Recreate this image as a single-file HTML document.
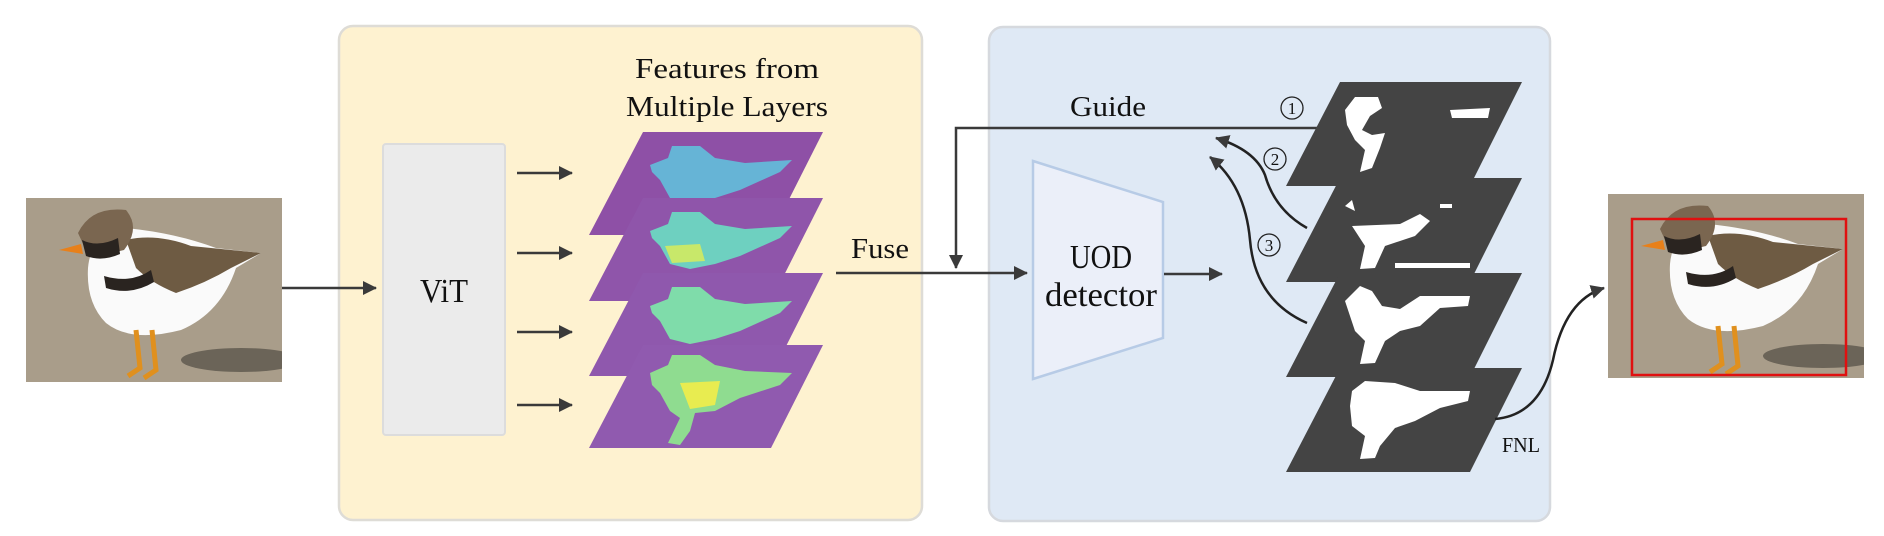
<!DOCTYPE html>
<html><head><meta charset="utf-8"><style>
html,body{margin:0;padding:0;background:#fff;}
svg{display:block;}
text{font-family:"Liberation Serif",serif;fill:#111;}
</style></head><body>
<svg width="1884" height="536" viewBox="0 0 1884 536" xmlns="http://www.w3.org/2000/svg">
<defs>
<marker id="ah" markerWidth="10" markerHeight="10" refX="9" refY="5" orient="auto" markerUnits="userSpaceOnUse">
<path d="M0,0 L10,5 L0,10 z" fill="#3a3a3a"/></marker>
<marker id="ah2" markerWidth="14" markerHeight="14" refX="13" refY="7" orient="auto" markerUnits="userSpaceOnUse">
<path d="M0,0 L14,7 L0,14 z" fill="#3a3a3a"/></marker>
<clipPath id="bc"><rect x="0" y="0" width="256" height="184"/></clipPath>
<g id="bird" clip-path="url(#bc)">
<rect x="0" y="0" width="256" height="184" fill="#a99d8a"/>
<ellipse cx="215" cy="162" rx="60" ry="12" fill="#6b6458"/>
<path d="M62,70 Q65,35 100,30 Q150,35 190,50 L235,55 L210,70 Q195,115 155,132 Q105,145 80,125 Q60,105 62,70z" fill="#fafafa"/>
<path d="M100,42 Q130,35 165,48 L235,55 L205,70 Q180,85 150,95 Q125,85 110,70z" fill="#6e5b43"/>
<path d="M52,35 Q65,8 100,12 Q115,30 98,52 Q75,58 58,48z" fill="#7a6650"/>
<path d="M56,42 Q72,50 92,40 L94,56 Q76,64 60,58z" fill="#2a2420"/>
<path d="M78,78 Q105,86 125,72 L128,84 Q105,98 80,90z" fill="#2a2420"/>
<path d="M33,52 L55,46 L57,56z" fill="#e8801a"/>
<path d="M110,132 L114,170 L102,178 M126,132 L130,172 L118,180" stroke="#e0901e" stroke-width="5" fill="none"/>
</g>
<polygon id="fp" points="643,132 823,132 771,235 589,235"/>
<polygon id="mp" points="1340,82 1522,82 1470,186 1286,186"/>
</defs>

<use href="#bird" transform="translate(26,198)"/>

<!-- yellow panel -->
<rect x="339" y="26" width="583" height="494" rx="14" fill="#fef2d0" stroke="#dedcd6" stroke-width="2.5"/>
<line x1="282" y1="288" x2="376" y2="288" stroke="#3a3a3a" stroke-width="2.5" marker-end="url(#ah2)"/>
<rect x="383" y="144" width="122" height="291" rx="3" fill="#ebebeb" stroke="#dcdcdc" stroke-width="2"/>
<text x="444" y="302" font-size="34" text-anchor="middle" textLength="48" lengthAdjust="spacingAndGlyphs">ViT</text>
<g stroke="#3a3a3a" stroke-width="2.5">
<line x1="517" y1="173" x2="572" y2="173" marker-end="url(#ah2)"/>
<line x1="517" y1="253" x2="572" y2="253" marker-end="url(#ah2)"/>
<line x1="517" y1="332" x2="572" y2="332" marker-end="url(#ah2)"/>
<line x1="517" y1="405" x2="572" y2="405" marker-end="url(#ah2)"/>
</g>
<text x="727" y="78" font-size="29" text-anchor="middle" textLength="184" lengthAdjust="spacingAndGlyphs">Features from</text>
<text x="727" y="116" font-size="29" text-anchor="middle" textLength="202" lengthAdjust="spacingAndGlyphs">Multiple Layers</text>
<g>
<use href="#fp" fill="#8e50a6"/>
<path d="M650,165 L668,158 L672,146 L700,146 L715,158 L745,163 L792,160 L780,172 L740,190 L715,198 L670,198 L660,180 L652,172z" fill="#66b4d6"/>
</g>
<g transform="translate(0,66)">
<use href="#fp" fill="#8f55aa"/>
<path d="M650,165 L668,158 L672,146 L700,146 L715,158 L745,163 L792,160 L780,172 L740,190 L715,198 L690,203 L670,198 L660,180 L652,172z" fill="#6ed0c0"/>
<path d="M665,180 L700,178 L705,195 L672,197z" fill="#c8e86a"/>
</g>
<g transform="translate(0,141)">
<use href="#fp" fill="#8f58ad"/>
<path d="M650,165 L668,158 L672,146 L700,146 L715,158 L745,163 L792,160 L780,172 L740,190 L715,198 L690,203 L670,198 L660,180 L652,172z" fill="#7fdcaa"/>
</g>
<g transform="translate(0,213)">
<use href="#fp" fill="#905aaf"/>
<path d="M650,160 L668,152 L672,142 L700,142 L715,152 L745,158 L792,160 L780,172 L740,185 L715,198 L695,200 L690,218 L680,232 L668,230 L680,205 L670,198 L660,180 L652,172z" fill="#8fdc90"/>
<path d="M680,170 L720,168 L715,192 L690,196z" fill="#e8ec50"/>
</g>

<text x="851" y="258" font-size="29" textLength="58" lengthAdjust="spacingAndGlyphs">Fuse</text>

<!-- blue panel -->
<rect x="989" y="27" width="561" height="494" rx="14" fill="#dfe9f5" stroke="#d6d9de" stroke-width="2.5"/>
<line x1="836" y1="273" x2="1027" y2="273" stroke="#3a3a3a" stroke-width="2.5" marker-end="url(#ah2)"/>
<text x="1108" y="116" font-size="29" text-anchor="middle" textLength="76" lengthAdjust="spacingAndGlyphs">Guide</text>
<polyline points="1319,128 956,128 956,268" fill="none" stroke="#3a3a3a" stroke-width="2.5" marker-end="url(#ah2)"/>
<polygon points="1033,161 1163,202 1163,338 1033,379" fill="#ebeff9" stroke="#b7cbe6" stroke-width="2.5"/>
<text x="1101" y="268" font-size="34" text-anchor="middle" textLength="62" lengthAdjust="spacingAndGlyphs">UOD</text>
<text x="1101" y="306" font-size="34" text-anchor="middle" textLength="112" lengthAdjust="spacingAndGlyphs">detector</text>
<line x1="1164" y1="274" x2="1222" y2="274" stroke="#3a3a3a" stroke-width="2.5" marker-end="url(#ah2)"/>

<g fill="#fff">
<use href="#mp" fill="#444"/>
<path d="M1345,110 L1355,97 L1378,97 L1382,108 L1370,116 L1362,130 L1372,135 L1385,133 L1380,148 L1372,168 L1360,172 L1365,150 L1355,140 L1347,125z"/>
<path d="M1450,110 L1490,108 L1488,118 L1452,118z"/>
</g>
<g transform="translate(0,96)" fill="#fff">
<use href="#mp" fill="#444"/>
<path d="M1345,110 L1352,104 L1355,115z M1440,108 L1452,108 L1452,112 L1440,112z"/>
<path d="M1352,130 L1400,128 L1420,118 L1430,125 L1415,140 L1385,150 L1375,172 L1360,173 L1365,150z"/>
<path d="M1395,167 L1470,167 L1470,172 L1395,172z"/>
</g>
<g transform="translate(0,191)" fill="#fff">
<use href="#mp" fill="#444"/>
<path d="M1345,110 L1360,95 L1372,100 L1382,115 L1400,118 L1420,105 L1470,105 L1468,115 L1440,117 L1420,135 L1400,140 L1385,150 L1375,172 L1360,173 L1365,150 L1355,140z"/>
</g>
<g transform="translate(0,286)" fill="#fff">
<use href="#mp" fill="#444"/>
<path d="M1352,105 L1365,95 L1395,97 L1420,105 L1470,105 L1468,115 L1440,122 L1415,135 L1395,142 L1380,160 L1375,172 L1360,173 L1365,150 L1352,140 L1350,120z"/>
</g>
<g font-size="17" text-anchor="middle">
<circle cx="1292" cy="108" r="11" fill="none" stroke="#222" stroke-width="1.3"/><text x="1292" y="114">1</text>
<circle cx="1275" cy="159" r="11" fill="none" stroke="#222" stroke-width="1.3"/><text x="1275" y="165">2</text>
<circle cx="1269" cy="245" r="11" fill="none" stroke="#222" stroke-width="1.3"/><text x="1269" y="251">3</text>
</g>
<path d="M1307,228 Q1275,210 1265,175 Q1255,150 1216,138" fill="none" stroke="#222" stroke-width="2.5" marker-end="url(#ah2)"/>
<path d="M1307,323 Q1255,300 1250,240 Q1245,185 1210,157" fill="none" stroke="#222" stroke-width="2.5" marker-end="url(#ah2)"/>
<text x="1502" y="452" font-size="21" textLength="38" lengthAdjust="spacingAndGlyphs">FNL</text>
<path d="M1495,419 Q1540,415 1553,360 Q1565,300 1604,288" fill="none" stroke="#222" stroke-width="2.5" marker-end="url(#ah2)"/>

<use href="#bird" transform="translate(1608,194)"/>
<rect x="1632" y="219" width="214" height="156" fill="none" stroke="#e01010" stroke-width="2.5"/>
</svg>
</body></html>
